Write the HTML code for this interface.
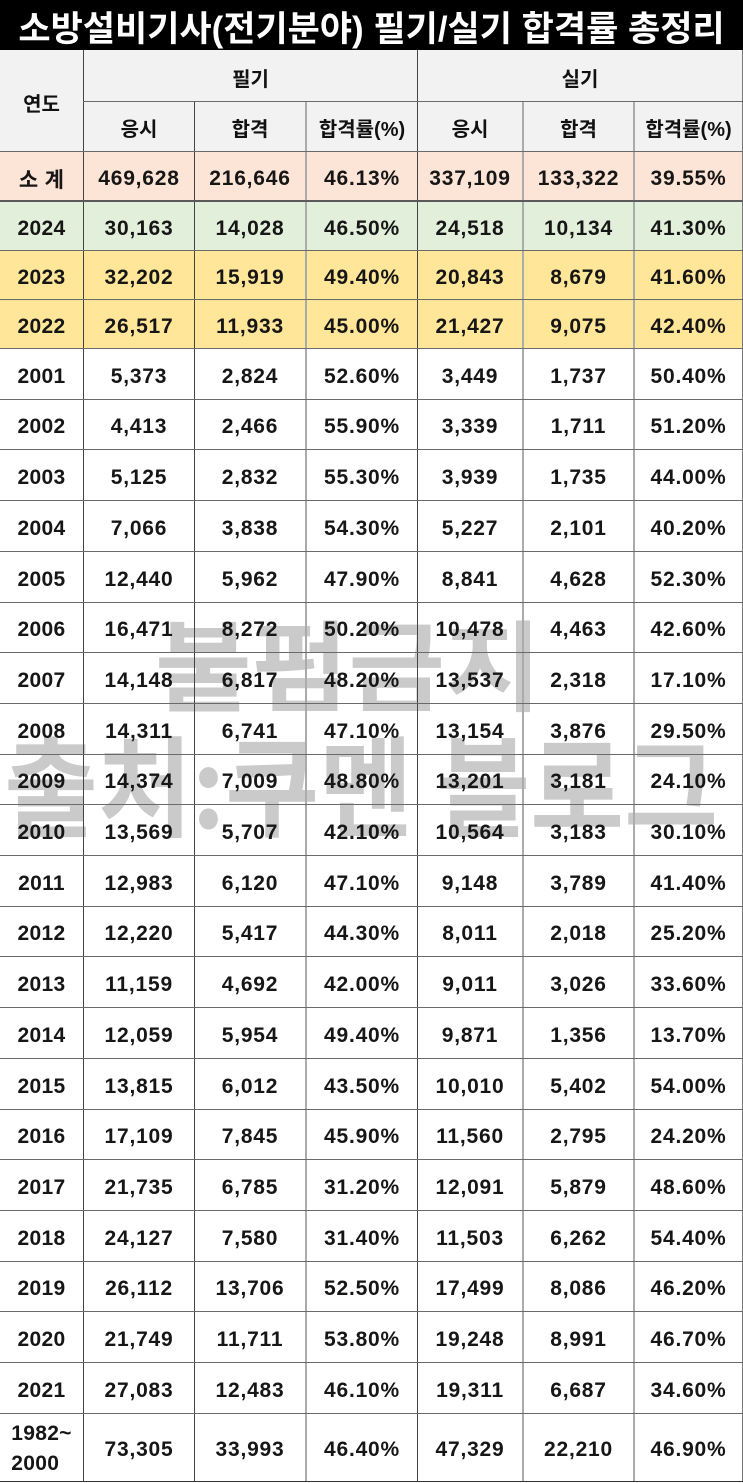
<!DOCTYPE html>
<html><head><meta charset="utf-8">
<style>
html,body{margin:0;padding:0;background:#fff;}
body{width:743px;height:1483px;position:relative;overflow:hidden;font-family:"Liberation Sans","Noto Sans CJK KR",sans-serif;}
.bg{position:absolute;left:0;width:743px;}
.r{position:absolute;left:0;width:743px;}
.c{position:absolute;top:0;height:100%;display:flex;align-items:center;justify-content:center;padding-top:5px;box-sizing:border-box;font-size:21px;font-weight:bold;color:#161616;letter-spacing:0.8px;white-space:nowrap;}
.c0{left:0;width:83px;letter-spacing:0.3px}
.c1{left:84px;width:110px}
.c2{left:195px;width:110px}
.c3{left:307px;width:110px}
.c4{left:418px;width:104px}
.c5{left:524px;width:109px}
.c6{left:635px;width:107px}
.h{font-size:20px;letter-spacing:0;padding-top:2px;color:#111;}
.v{position:absolute;width:1px;background:#444;}
.vl{position:absolute;width:2px;background:#ababab;}
.hl{position:absolute;height:1px;background:#6a6a6a;left:0;width:743px;}
.wm{position:absolute;font-family:"Noto Sans CJK KR","Liberation Sans",sans-serif;font-weight:bold;color:#cacaca;line-height:1;white-space:nowrap;transform-origin:0 0;}
.title{position:absolute;left:0;top:0;width:743px;height:50px;background:#000;color:#fff;font-size:35px;font-weight:bold;display:flex;align-items:center;justify-content:center;padding-top:3px;box-sizing:border-box;white-space:nowrap;}
</style></head><body>

<!-- backgrounds -->
<div class="bg" style="top:50px;height:101px;background:#f2f2f2"></div>
<div class="bg" style="top:151px;height:50px;background:#fce4d6"></div>
<div class="bg" style="top:201px;height:49px;background:#e2efda"></div>
<div class="bg" style="top:250px;height:98px;background:#ffe699"></div>

<!-- watermark -->
<div class="wm" style="left:155px;top:611px;font-size:93px;transform:scale(1.13,1.06);">불펌금지</div>
<div class="wm" style="left:4px;top:727px;font-size:95px;transform:scale(1.075,1.15);">출처:쿠멘 블로그</div>

<div class="title">소방설비기사(전기분야) 필기/실기 합격률 총정리</div>

<!-- header -->
<div class="r" style="top:51px;height:100px"><div class="c c0 h">연도</div></div>
<div class="r" style="top:51px;height:50px"><div class="c h" style="left:84px;width:333px">필기</div><div class="c h" style="left:418px;width:324px">실기</div></div>
<div class="r" style="top:102px;height:49px">
<div class="c c1 h">응시</div><div class="c c2 h">합격</div><div class="c c3 h">합격률(%)</div>
<div class="c c4 h">응시</div><div class="c c5 h">합격</div><div class="c c6 h">합격률(%)</div></div>

<div class="r" style="top:152px;height:48px"><div class="c c0">소 계</div><div class="c c1">469,628</div><div class="c c2">216,646</div><div class="c c3">46.13%</div><div class="c c4">337,109</div><div class="c c5">133,322</div><div class="c c6">39.55%</div></div>
<div class="r" style="top:202px;height:48px"><div class="c c0">2024</div><div class="c c1">30,163</div><div class="c c2">14,028</div><div class="c c3">46.50%</div><div class="c c4">24,518</div><div class="c c5">10,134</div><div class="c c6">41.30%</div></div>
<div class="r" style="top:251px;height:48px"><div class="c c0">2023</div><div class="c c1">32,202</div><div class="c c2">15,919</div><div class="c c3">49.40%</div><div class="c c4">20,843</div><div class="c c5">8,679</div><div class="c c6">41.60%</div></div>
<div class="r" style="top:300px;height:48px"><div class="c c0">2022</div><div class="c c1">26,517</div><div class="c c2">11,933</div><div class="c c3">45.00%</div><div class="c c4">21,427</div><div class="c c5">9,075</div><div class="c c6">42.40%</div></div>

<div class="r" style="top:349px;height:50px"><div class="c c0">2001</div><div class="c c1">5,373</div><div class="c c2">2,824</div><div class="c c3">52.60%</div><div class="c c4">3,449</div><div class="c c5">1,737</div><div class="c c6">50.40%</div></div>
<div class="r" style="top:400px;height:49px"><div class="c c0">2002</div><div class="c c1">4,413</div><div class="c c2">2,466</div><div class="c c3">55.90%</div><div class="c c4">3,339</div><div class="c c5">1,711</div><div class="c c6">51.20%</div></div>
<div class="r" style="top:450px;height:50px"><div class="c c0">2003</div><div class="c c1">5,125</div><div class="c c2">2,832</div><div class="c c3">55.30%</div><div class="c c4">3,939</div><div class="c c5">1,735</div><div class="c c6">44.00%</div></div>
<div class="r" style="top:501px;height:50px"><div class="c c0">2004</div><div class="c c1">7,066</div><div class="c c2">3,838</div><div class="c c3">54.30%</div><div class="c c4">5,227</div><div class="c c5">2,101</div><div class="c c6">40.20%</div></div>
<div class="r" style="top:552px;height:50px"><div class="c c0">2005</div><div class="c c1">12,440</div><div class="c c2">5,962</div><div class="c c3">47.90%</div><div class="c c4">8,841</div><div class="c c5">4,628</div><div class="c c6">52.30%</div></div>
<div class="r" style="top:603px;height:49px"><div class="c c0">2006</div><div class="c c1">16,471</div><div class="c c2">8,272</div><div class="c c3">50.20%</div><div class="c c4">10,478</div><div class="c c5">4,463</div><div class="c c6">42.60%</div></div>
<div class="r" style="top:653px;height:50px"><div class="c c0">2007</div><div class="c c1">14,148</div><div class="c c2">6,817</div><div class="c c3">48.20%</div><div class="c c4">13,537</div><div class="c c5">2,318</div><div class="c c6">17.10%</div></div>
<div class="r" style="top:704px;height:50px"><div class="c c0">2008</div><div class="c c1">14,311</div><div class="c c2">6,741</div><div class="c c3">47.10%</div><div class="c c4">13,154</div><div class="c c5">3,876</div><div class="c c6">29.50%</div></div>
<div class="r" style="top:755px;height:49px"><div class="c c0">2009</div><div class="c c1">14,374</div><div class="c c2">7,009</div><div class="c c3">48.80%</div><div class="c c4">13,201</div><div class="c c5">3,181</div><div class="c c6">24.10%</div></div>
<div class="r" style="top:805px;height:50px"><div class="c c0">2010</div><div class="c c1">13,569</div><div class="c c2">5,707</div><div class="c c3">42.10%</div><div class="c c4">10,564</div><div class="c c5">3,183</div><div class="c c6">30.10%</div></div>
<div class="r" style="top:856px;height:50px"><div class="c c0">2011</div><div class="c c1">12,983</div><div class="c c2">6,120</div><div class="c c3">47.10%</div><div class="c c4">9,148</div><div class="c c5">3,789</div><div class="c c6">41.40%</div></div>
<div class="r" style="top:907px;height:49px"><div class="c c0">2012</div><div class="c c1">12,220</div><div class="c c2">5,417</div><div class="c c3">44.30%</div><div class="c c4">8,011</div><div class="c c5">2,018</div><div class="c c6">25.20%</div></div>
<div class="r" style="top:957px;height:50px"><div class="c c0">2013</div><div class="c c1">11,159</div><div class="c c2">4,692</div><div class="c c3">42.00%</div><div class="c c4">9,011</div><div class="c c5">3,026</div><div class="c c6">33.60%</div></div>
<div class="r" style="top:1008px;height:50px"><div class="c c0">2014</div><div class="c c1">12,059</div><div class="c c2">5,954</div><div class="c c3">49.40%</div><div class="c c4">9,871</div><div class="c c5">1,356</div><div class="c c6">13.70%</div></div>
<div class="r" style="top:1059px;height:50px"><div class="c c0">2015</div><div class="c c1">13,815</div><div class="c c2">6,012</div><div class="c c3">43.50%</div><div class="c c4">10,010</div><div class="c c5">5,402</div><div class="c c6">54.00%</div></div>
<div class="r" style="top:1110px;height:49px"><div class="c c0">2016</div><div class="c c1">17,109</div><div class="c c2">7,845</div><div class="c c3">45.90%</div><div class="c c4">11,560</div><div class="c c5">2,795</div><div class="c c6">24.20%</div></div>
<div class="r" style="top:1160px;height:50px"><div class="c c0">2017</div><div class="c c1">21,735</div><div class="c c2">6,785</div><div class="c c3">31.20%</div><div class="c c4">12,091</div><div class="c c5">5,879</div><div class="c c6">48.60%</div></div>
<div class="r" style="top:1211px;height:50px"><div class="c c0">2018</div><div class="c c1">24,127</div><div class="c c2">7,580</div><div class="c c3">31.40%</div><div class="c c4">11,503</div><div class="c c5">6,262</div><div class="c c6">54.40%</div></div>
<div class="r" style="top:1262px;height:49px"><div class="c c0">2019</div><div class="c c1">26,112</div><div class="c c2">13,706</div><div class="c c3">52.50%</div><div class="c c4">17,499</div><div class="c c5">8,086</div><div class="c c6">46.20%</div></div>
<div class="r" style="top:1312px;height:50px"><div class="c c0">2020</div><div class="c c1">21,749</div><div class="c c2">11,711</div><div class="c c3">53.80%</div><div class="c c4">19,248</div><div class="c c5">8,991</div><div class="c c6">46.70%</div></div>
<div class="r" style="top:1363px;height:50px"><div class="c c0">2021</div><div class="c c1">27,083</div><div class="c c2">12,483</div><div class="c c3">46.10%</div><div class="c c4">19,311</div><div class="c c5">6,687</div><div class="c c6">34.60%</div></div>
<div class="r" style="top:1414px;height:67px"><div class="c c0" style="flex-direction:column;line-height:30px;padding-top:3px">1982~<br>2000</div><div class="c c1">73,305</div><div class="c c2">33,993</div><div class="c c3">46.40%</div><div class="c c4">47,329</div><div class="c c5">22,210</div><div class="c c6">46.90%</div></div>

<!-- vertical lines -->
<div class="v" style="left:83px;top:50px;height:1432px"></div>
<div class="v" style="left:194px;top:101px;height:1381px"></div>
<div class="vl" style="left:305px;top:101px;height:1381px"></div>
<div class="v" style="left:417px;top:50px;height:1432px"></div>
<div class="vl" style="left:522px;top:101px;height:1381px"></div>
<div class="vl" style="left:633px;top:101px;height:1381px"></div>
<div class="v" style="left:742px;top:50px;height:1432px;background:#777"></div>

<!-- horizontal lines -->
<div class="hl" style="top:101px;left:83px;width:660px"></div>
<div class="hl" style="top:151px"></div>
<div class="hl" style="top:200px;height:2px;background:#5a5a5a"></div>
<div class="hl" style="top:250px"></div>
<div class="hl" style="top:299px"></div>
<div class="hl" style="top:348px"></div>
<div class="hl" style="top:399px"></div>
<div class="hl" style="top:449px"></div>
<div class="hl" style="top:500px"></div>
<div class="hl" style="top:551px"></div>
<div class="hl" style="top:602px"></div>
<div class="hl" style="top:652px"></div>
<div class="hl" style="top:703px"></div>
<div class="hl" style="top:754px"></div>
<div class="hl" style="top:804px"></div>
<div class="hl" style="top:855px"></div>
<div class="hl" style="top:906px"></div>
<div class="hl" style="top:956px"></div>
<div class="hl" style="top:1007px"></div>
<div class="hl" style="top:1058px"></div>
<div class="hl" style="top:1109px"></div>
<div class="hl" style="top:1159px"></div>
<div class="hl" style="top:1210px"></div>
<div class="hl" style="top:1261px"></div>
<div class="hl" style="top:1311px"></div>
<div class="hl" style="top:1362px"></div>
<div class="hl" style="top:1413px"></div>
<div class="hl" style="top:1481px;background:#333"></div>

</body></html>
